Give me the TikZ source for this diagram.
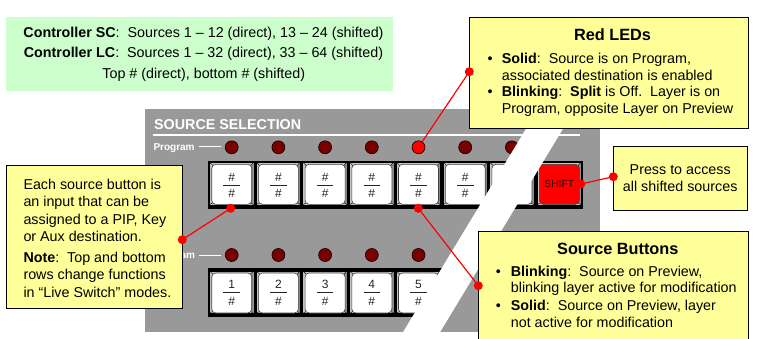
\documentclass[tikz,border=0pt]{standalone}
\usepackage{fontspec}
\setmainfont{Liberation Sans}
\definecolor{panelgray}{HTML}{999999}
\definecolor{ledoff}{HTML}{7A0000}
\definecolor{yelbox}{HTML}{FFFF99}
\definecolor{grnbox}{HTML}{CCFFCC}
\definecolor{bevellight}{HTML}{C4C4C4}
\definecolor{bevelmid}{HTML}{8A8A8A}
\definecolor{shifttext}{HTML}{300000}
\newcommand\keybevel[2]{%
  \fill[bevellight] (#1-22.5,#2-22.3) rectangle (#1+22,#2+20.5);
  \fill[bevelmid] (#1+22,#2-22.3) -- (#1+22,#2+20.5) -- (#1+19,#2+18) -- (#1+19,#2-19) -- cycle;
  \draw[black, line width=0.4pt] (#1-22.5,#2-22.3) -- (#1-18,#2-18)
    (#1+22,#2-22.3) -- (#1+18,#2-18)
    (#1-22.5,#2+20.5) -- (#1-18,#2+18)
    (#1+22,#2+20.5) -- (#1+18,#2+18);
  \draw[black, line width=0.4pt] (#1-22.5,#2-22.3) rectangle (#1+22,#2+20.5);
}
\begin{document}
\begin{tikzpicture}[x=1pt,y=-1pt,
  txt/.style={font=\fontsize{14.3}{17}\selectfont, inner sep=0pt, anchor=base west},
  ctxt/.style={font=\fontsize{14.3}{17}\selectfont, inner sep=0pt, anchor=base},
  ttl/.style={font=\fontsize{16.3}{19}\selectfont\bfseries, inner sep=0pt, anchor=base},
  ybox/.style={rectangle, draw=black, line width=0.7pt, fill=yelbox, inner sep=0pt, anchor=north west},
  gbox/.style={rectangle, fill=grnbox, inner sep=0pt, anchor=north west},
  led/.style={circle, draw=black, line width=0.6pt, fill=ledoff, minimum size=13pt, inner sep=0pt},
  pin/.style={circle, fill=red, minimum size=9pt, inner sep=0pt},
  conn/.style={red, line width=1.2pt},
  keyface/.style={rectangle, rounded corners=4pt, draw=black!75, line width=0.6pt, fill=white, minimum width=40pt, minimum height=40pt, inner sep=0pt},
  klabel/.style={font=\fontsize{12}{14}\selectfont, inner sep=0pt, anchor=base, text=black!85},
  klinestyle/.style={black!85, line width=0.8pt},
  wlabel/.style={font=\fontsize{10}{12}\selectfont\bfseries, text=white, inner sep=0pt, anchor=base west},
  bul/.style={font=\fontsize{14.3}{17}\selectfont, inner sep=0pt, anchor=base}
]
\clip (0,0) rectangle (759,339);

% info box
\node[gbox, minimum width=387pt, minimum height=74pt] (info) at (6,17) {};
\node[ctxt] (info1) at (203.5,37.3) {\textbf{Controller SC}:\ \ Sources 1 – 12 (direct), 13 – 24 (shifted)};
\node[ctxt] (info2) at (203.5,57.7) {\textbf{Controller LC}:\ \ Sources 1 – 32 (direct), 33 – 64 (shifted)};
\node[ctxt] (info3) at (203.8,79) {Top \# (direct), bottom \# (shifted)};

% panel
\node[rectangle, fill=panelgray, minimum width=455pt, minimum height=223pt, inner sep=0pt, anchor=north west] (panel) at (145,109) {};
\node[font=\fontsize{14.3}{17}\selectfont\bfseries, text=white, inner sep=0pt, anchor=base west] (srcsel) at (154,129.3) {SOURCE SELECTION};
\draw[white, line width=1.5pt] (153,135) -- (580,135);

\node[wlabel] (prog1) at (153.3,150.2) {Program};
\draw[white, line width=1pt] (199.3,146.9) -- (221,146.9);
\node[wlabel, anchor=base east] (prog2) at (195.2,258.6) {am};
\draw[white, line width=1pt] (199.3,255.3) -- (221,255.3);

% LEDs
\foreach \i/\x in {1/231.7,2/278.4,3/325.1,4/371.8,6/465.2,7/511.9}
  \node[led] (lt\i) at (\x,147.3) {};
\node[led, fill=red] (lt5) at (418.5,147.3) {};
\foreach \i/\x in {1/231.7,2/278.4,3/325.1,4/371.8,5/418.5}
  \node[led] (lb\i) at (\x,255) {};

% key strips
\fill[black] (207.7,161) rectangle (583.3,209);
\fill[black] (207.7,268.3) rectangle (446,316.7);

% top row keys
\foreach \i/\x in {1/231.7,2/278.4,3/325.1,4/371.8,5/418.5,6/465.2,7/511.9} {
  \keybevel{\x}{184.3}
  \node[keyface] (kt\i) at (\x,184.3) {};
  \node[klabel] (kta\i) at (\x,181.7) {\#};
  \draw[klinestyle] (\x-8.3,185) -- (\x+8.3,185);
  \node[klabel] (ktb\i) at (\x,197.6) {\#};
}
\keybevel{559.3}{184.3}
\node[keyface, fill=red] (kshift) at (559.3,184.3) {};
\node[font=\fontsize{10.3}{12}\selectfont, text=shifttext, inner sep=0pt] (shiftlbl) at (559.3,184.3) {SHIFT};

% bottom row keys
\foreach \i/\x in {1/231.7,2/278.4,3/325.1,4/371.8,5/418.5} {
  \keybevel{\x}{293}
  \node[keyface] (kb\i) at (\x,293) {};
  \node[klabel] (kba\i) at (\x,288.3) {\i};
  \draw[klinestyle] (\x-8.3,291.9) -- (\x+8.3,291.9);
  \node[klabel] (kbb\i) at (\x,305.3) {\#};
}

% diagonal break
\fill[white] (540.4,105) -- (577.4,105) -- (438.3,335) -- (401.3,335) -- cycle;

% callout boxes
\node[ybox, minimum width=278.4pt, minimum height=111.6pt] (ledbox) at (469.3,16.7) {};
\node[ttl] (ledttl) at (612.5,40.7) {Red LEDs};
\node[bul] (ledb1) at (490,64) {•};
\node[txt] (ledl1) at (501.7,64) {\textbf{Solid}:\ \ Source is on Program,};
\node[txt] (ledl2) at (501.7,80.5) {associated destination is enabled};
\node[bul] (ledb2) at (490,96.9) {•};
\node[txt] (ledl3) at (501.7,96.9) {\textbf{Blinking}:\ \ \textbf{Split} is Off.\ \ Layer is on};
\node[txt] (ledl4) at (501.7,113.3) {Program, opposite Layer on Preview};

\node[ybox, minimum width=176.3pt, minimum height=143.3pt] (notebox) at (6,165) {};
\node[txt] (n1) at (23.3,189.3) {Each source button is};
\node[txt] (n2) at (23.3,206.7) {an input that can be};
\node[txt] (n3) at (23.3,224.1) {assigned to a PIP, Key};
\node[txt] (n4) at (23.3,241.5) {or Aux destination.};
\node[txt] (n5) at (23.3,262.3) {\textbf{Note}:\ \ Top and bottom};
\node[txt] (n6) at (23.3,279.8) {rows change functions};
\node[txt] (n7) at (23.3,297.4) {in “Live Switch” modes.};

\node[ybox, minimum width=134pt, minimum height=64pt] (shiftbox) at (613.3,146) {};
\node[ctxt] (s1) at (680.2,175) {Press to access};
\node[ctxt] (s2) at (680.2,191.7) {all shifted sources};

\node[ybox, minimum width=270pt, minimum height=120pt] (btnbox) at (478.3,230.7) {};
\node[ttl] (btnttl) at (617.8,254.3) {Source Buttons};
\node[bul] (btnb1) at (498.3,276) {•};
\node[txt] (bl1) at (510.7,276) {\textbf{Blinking}:\ \ Source on Preview,};
\node[txt] (bl2) at (510.7,292.8) {blinking layer active for modification};
\node[bul] (btnb2) at (498.3,310.4) {•};
\node[txt] (bl3) at (510.7,310.4) {\textbf{Solid}:\ \ Source on Preview, layer};
\node[txt] (bl4) at (510.7,327.2) {not active for modification};

% connectors
\node[pin] (p1) at (469.3,71.7) {};
\draw[conn] (lt5) -- (p1.center);
\node[pin] (p2) at (230.7,208.3) {};
\node[pin] (p3) at (182.3,239.7) {};
\draw[conn] (p2.center) -- (p3.center);
\node[pin] (p4) at (418.3,208.3) {};
\node[pin] (p5) at (478.3,285.7) {};
\draw[conn] (p4.center) -- (p5.center);
\node[pin] (p6) at (580.8,184) {};
\node[pin] (p7) at (613.3,176.7) {};
\draw[conn] (p6.center) -- (p7.center);
\end{tikzpicture}
\end{document}
